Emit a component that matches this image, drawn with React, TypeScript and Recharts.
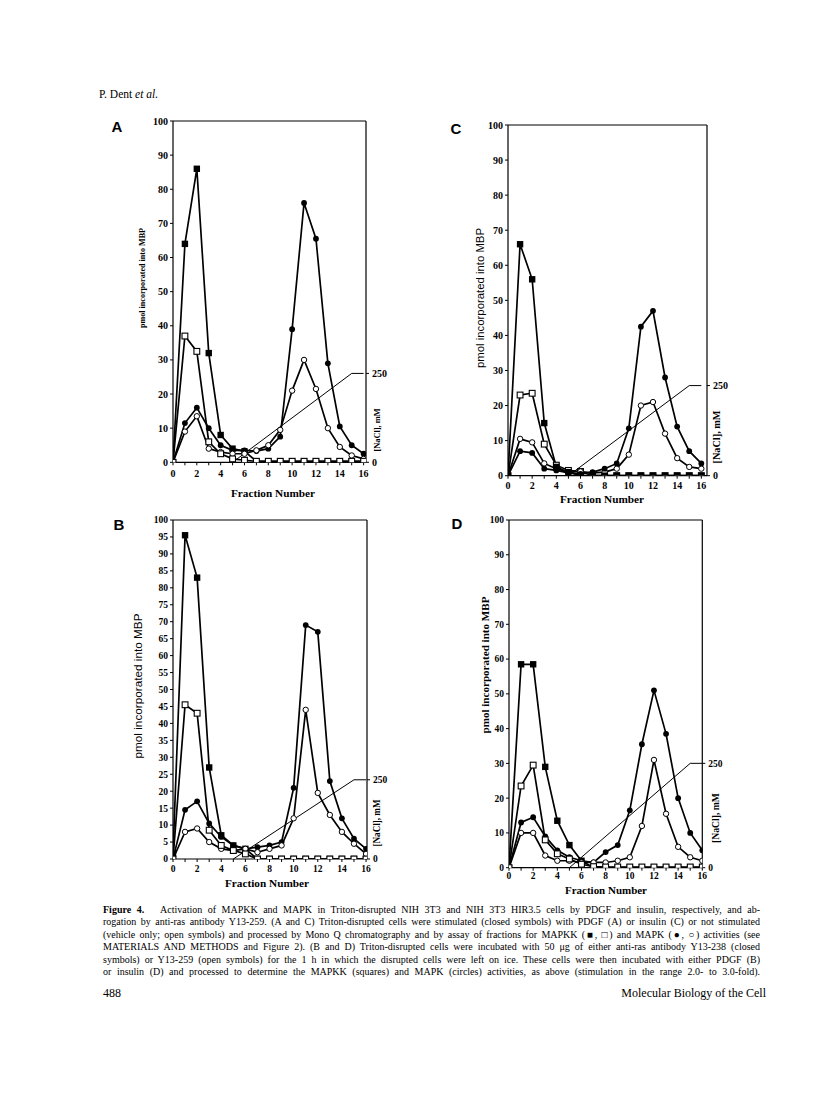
import React from 'react';
import { LineChart, Line, XAxis, YAxis, ReferenceLine } from 'recharts';

const fractions = [0, 1, 2, 3, 4, 5, 6, 7, 8, 9, 10, 11, 12, 13, 14, 15, 16];
const xTicks = [0, 1, 2, 3, 4, 5, 6, 7, 8, 9, 10, 11, 12, 13, 14, 15, 16];
const yTicks10 = [0, 10, 20, 30, 40, 50, 60, 70, 80, 90, 100];
const yTicks5 = [0, 5, 10, 15, 20, 25, 30, 35, 40, 45, 50, 55, 60, 65, 70, 75, 80, 85, 90, 95, 100];
const naclTicks = [0, 250];
// NaCl gradient, mM
const naclMM = [null, null, null, null, null, 0, null, null, null, null, null, null, null, null, null, 250, 250];

// Panel A (PDGF): MAPKK closed/open squares, MAPK closed/open circles
const aMapkkClosed = [0, 64, 86, 32, 8, 4, 3.2, 0.3, 0.3, 0.3, 0.3, 0.3, 0.3, 0.3, 0.3, 0.3, 0.3];
const aMapkkOpen = [0, 37, 32.5, 6, 2.5, 1, 0.6, 0.3, 0.3, 0.3, 0.3, 0.3, 0.3, 0.3, 0.3, 0.3, 0.3];
const aMapkClosed = [0, 11.5, 16, 10, 5, 3.5, 3.5, 3.3, 4, 7.5, 39, 76, 65.5, 29, 10.5, 5, 2.5];
const aMapkOpen = [0, 9, 13.5, 4, 3, 2.5, 2.5, 3.5, 5, 9.5, 21, 30, 21.5, 10, 4.5, 2, 1];

// Panel C (insulin)
const cMapkkClosed = [0, 66, 56, 15, 2.5, 1, 0, 0, 0, 0, 0, 0, 0, 0, 0, 0, 0];
const cMapkkOpen = [0, 23, 23.5, 9, 3, 1.5, 1.2, 0, 0, 0, 0, 0, 0, 0, 0, 0, 0];
const cMapkClosed = [0, 7, 6.5, 2, 1.5, 0.8, 0.5, 1, 2, 3.5, 13.5, 42.5, 47, 28, 14, 7, 3.5];
const cMapkOpen = [0, 10.5, 9.5, 3.5, 2, 1, 1.2, 0.8, 1, 2, 6, 20, 21, 12, 5, 2.5, 2];

// Panel B (PDGF + antibodies)
const bMapkkClosed = [1.5, 95.5, 83, 27, 7, 4, 3, 0, 0, 0, 0, 0, 0, 0, 0, 0, 0];
const bMapkkOpen = [0, 45.5, 43, 8.5, 4, 2.5, 1.5, 0, 0, 0, 0, 0, 0, 0, 0, 0, 0];
const bMapkClosed = [0, 14.5, 17, 10.5, 6.5, 4, 3, 3.5, 4, 5, 21, 69, 67, 23, 12, 6, 3];
const bMapkOpen = [0, 8, 9, 5, 3, 2.5, 3, 2, 3, 4, 12, 44, 19.5, 13, 8, 4.5, 1.5];

// Panel D (insulin + antibodies)
const dMapkkClosed = [0, 58.5, 58.5, 29, 13.5, 6.5, 2, 0, 0, 0, 0, 0, 0, 0, 0, 0, 0];
const dMapkkOpen = [0, 23.5, 29.5, 8, 4, 2.5, 1, 0.3, 0.2, 0.2, 0.2, 0.2, 0.2, 0.2, 0.2, 0.2, 0.2];
const dMapkClosed = [0, 13, 14.5, 9, 5, 3, 2, 1.5, 4.5, 6.5, 16.5, 35.5, 51, 38.5, 20, 10, 5];
const dMapkOpen = [0, 10, 10, 3.5, 2, 2, 1.5, 1.5, 1.5, 2, 3, 12, 31, 15.5, 6, 3, 2];

const captionLines = [
  ['Figure 4.', '\u00a0\u00a0 Activation of MAPKK and MAPK in Triton-disrupted NIH 3T3 and NIH 3T3 HIR3.5 cells by PDGF and insulin, respectively, and ab-'],
  ['', 'rogation by anti-ras antibody Y13-259. (A and C) Triton-disrupted cells were stimulated (closed symbols) with PDGF (A) or insulin (C) or not stimulated'],
  ['', '(vehicle only; open symbols) and processed by Mono Q chromatography and by assay of fractions for MAPKK (\u25A0, \u25A1) and MAPK (\u25CF, \u25CB) activities (see'],
  ['', 'MATERIALS AND METHODS and Figure 2). (B and D) Triton-disrupted cells were incubated with 50 \u03BCg of either anti-ras antibody Y13-238 (closed'],
  ['', 'symbols) or Y13-259 (open symbols) for the 1 h in which the disrupted cells were left on ice. These cells were then incubated with either PDGF (B)'],
  ['', 'or insulin (D) and processed to determine the MAPKK (squares) and MAPK (circles) activities, as above (stimulation in the range 2.0- to 3.0-fold).'],
];

const SERIF = '"Liberation Serif", "Times New Roman", serif';
const SANS = '"Liberation Sans", Arial, sans-serif';

const ClosedSquare = (p: any) =>
  p.cx == null || p.cy == null ? <g key={`cs${p.index}`} /> :
    <rect key={`cs${p.index}`} x={p.cx - 3.2} y={p.cy - 3.2} width={6.4} height={6.4} fill="#000" />;
const OpenSquare = (p: any) =>
  p.cx == null || p.cy == null ? <g key={`os${p.index}`} /> :
    <rect key={`os${p.index}`} x={p.cx - 2.9} y={p.cy - 2.9} width={5.8} height={5.8} fill="#fff" stroke="#000" strokeWidth={1.1} />;
const ClosedCircle = (p: any) =>
  p.cx == null || p.cy == null ? <g key={`cc${p.index}`} /> :
    <circle key={`cc${p.index}`} cx={p.cx} cy={p.cy} r={2.9} fill="#000" />;
const OpenCircle = (p: any) =>
  p.cx == null || p.cy == null ? <g key={`oc${p.index}`} /> :
    <circle key={`oc${p.index}`} cx={p.cx} cy={p.cy} r={2.7} fill="#fff" stroke="#000" strokeWidth={1} />;

type PanelDef = {
  x0: number; xf: number; yTop: number; y0: number; xMax: number; rightMax: number;
  yTicks: number[]; cs: number[]; os: number[]; cc: number[]; oc: number[];
  order: string[]; xTickMargin: number; tickFont: number;
};

const dotFor: Record<string, any> = { cs: ClosedSquare, os: OpenSquare, cc: ClosedCircle, oc: OpenCircle };

function Panel(p: PanelDef) {
  const L = 80, R = 50, T = 15, B = 45;
  const w = p.xf - p.x0 + L + R;
  const h = p.y0 - p.yTop + T + B;
  const data = fractions.map((f, i) => ({ f, cs: p.cs[i], os: p.os[i], cc: p.cc[i], oc: p.oc[i], nacl: naclMM[i] }));
  const tickStyle = { fill: '#000', fontSize: p.tickFont, fontFamily: SERIF, fontWeight: 700 };
  return (
    <div style={{ position: 'absolute', left: p.x0 - L, top: p.yTop - T }}>
      <LineChart width={w} height={h} data={data} margin={{ top: T, right: 0, bottom: 0, left: 0 }}>
        <XAxis dataKey="f" type="number" domain={[0, p.xMax]} ticks={xTicks} interval={0} allowDataOverflow
          height={B} tickSize={3} tickMargin={p.xTickMargin} stroke="#000" tickLine={{ stroke: '#000' }}
          axisLine={{ stroke: '#000', strokeWidth: 1.2 }} tick={tickStyle}
          tickFormatter={(v: number) => (v % 2 === 0 ? String(v) : '')} />
        <YAxis yAxisId="l" domain={[0, 100]} ticks={p.yTicks} interval={0} allowDataOverflow width={L}
          tickSize={3} tickMargin={2} axisLine={{ stroke: '#000', strokeWidth: 1.2 }} tickLine={{ stroke: '#000' }} tick={tickStyle} />
        <YAxis yAxisId="r" orientation="right" domain={[0, p.rightMax]} ticks={naclTicks} interval={0} allowDataOverflow width={R}
          tickSize={3} tickMargin={3} axisLine={{ stroke: '#000', strokeWidth: 1.2 }} tickLine={{ stroke: '#000' }} tick={tickStyle} />
        <ReferenceLine yAxisId="l" y={100} stroke="#000" strokeWidth={1.2} />
        <Line yAxisId="r" dataKey="nacl" connectNulls dot={false} stroke="#000" strokeWidth={1} isAnimationActive={false} />
        {p.order.map((k) => (
          <Line key={k} yAxisId="l" dataKey={k} stroke="#000" strokeWidth={1.7} dot={dotFor[k]} activeDot={false} isAnimationActive={false} />
        ))}
      </LineChart>
    </div>
  );
}

const rotText = (x: number, y: number, s: string, size: number, len: number, family: string, weight: number) => (
  <text x={x} y={y} transform={`rotate(-90 ${x} ${y})`} textAnchor="middle" dominantBaseline="central"
    fontSize={size} fontFamily={family} fontWeight={weight} textLength={len} lengthAdjust="spacingAndGlyphs" fill="#000">{s}</text>
);
const hText = (x: number, y: number, s: string, size: number, len: number, family: string, weight: number) => (
  <text x={x} y={y} textAnchor="middle" dominantBaseline="central"
    fontSize={size} fontFamily={family} fontWeight={weight} textLength={len} lengthAdjust="spacingAndGlyphs" fill="#000">{s}</text>
);

export default function App() {
  return (
    <div style={{ position: 'absolute', left: 0, top: 0, width: 816, height: 1108, background: '#fff', overflow: 'hidden' }}>
      <div style={{ position: 'absolute', left: 99, top: 88, fontFamily: SERIF, fontSize: 11.5, color: '#000', whiteSpace: 'nowrap' }}>
        P. Dent <i>et al.</i>
      </div>

      <Panel x0={172.7} xf={365.7} yTop={121} y0={462.3} xMax={16.2} rightMax={960} yTicks={yTicks10}
        cs={aMapkkClosed} os={aMapkkOpen} cc={aMapkClosed} oc={aMapkOpen} order={['cs', 'cc', 'oc', 'os']} xTickMargin={5} tickFont={10} />
      <Panel x0={507.7} xf={706.7} yTop={125} y0={475.7} xMax={16.47} rightMax={973} yTicks={yTicks10}
        cs={cMapkkClosed} os={cMapkkOpen} cc={cMapkClosed} oc={cMapkOpen} order={['os', 'oc', 'cc', 'cs']} xTickMargin={3} tickFont={10} />
      <Panel x0={172.7} xf={366.7} yTop={520} y0={859} xMax={16.08} rightMax={1070} yTicks={yTicks5}
        cs={bMapkkClosed} os={bMapkkOpen} cc={bMapkClosed} oc={bMapkOpen} order={['cs', 'cc', 'oc', 'os']} xTickMargin={3} tickFont={9.5} />
      <Panel x0={509} xf={702.3} yTop={520} y0={867.7} xMax={16} rightMax={833} yTicks={yTicks10}
        cs={dMapkkClosed} os={dMapkkOpen} cc={dMapkClosed} oc={dMapkOpen} order={['cs', 'cc', 'oc', 'os']} xTickMargin={2} tickFont={9.5} />

      <svg width={816} height={1108} style={{ position: 'absolute', left: 0, top: 0, pointerEvents: 'none' }}>
        <text x={117} y={126} textAnchor="middle" dominantBaseline="central" fontSize={15} fontFamily={SANS} fontWeight={700}>A</text>
        <text x={456} y={128} textAnchor="middle" dominantBaseline="central" fontSize={15} fontFamily={SANS} fontWeight={700}>C</text>
        <text x={119} y={524} textAnchor="middle" dominantBaseline="central" fontSize={15} fontFamily={SANS} fontWeight={700}>B</text>
        <text x={457} y={523} textAnchor="middle" dominantBaseline="central" fontSize={15} fontFamily={SANS} fontWeight={700}>D</text>

        {rotText(142, 278, 'pmol incorporated into MBP', 9, 100, SERIF, 700)}
        {rotText(480, 298, 'pmol incorporated into MBP', 10.5, 140, SANS, 400)}
        {rotText(138, 686, 'pmol incorporated into MBP', 11, 145, SANS, 400)}
        {rotText(486, 665, 'pmol incorporated into MBP', 9.5, 137, SERIF, 700)}

        {rotText(377, 430, '[NaCl], mM', 9, 43, SERIF, 700)}
        {rotText(716, 437, '[NaCl], mM', 10, 53, SERIF, 700)}
        {rotText(377, 823, '[NaCl], mM', 9.5, 47, SERIF, 700)}
        {rotText(715, 818, '[NaCl], mM', 10, 50, SERIF, 700)}

        {hText(273, 493, 'Fraction  Number', 10.5, 84, SERIF, 700)}
        {hText(602, 499, 'Fraction  Number', 10.5, 84, SERIF, 700)}
        {hText(267, 883, 'Fraction  Number', 10.5, 84, SERIF, 700)}
        {hText(606, 890, 'Fraction  Number', 10, 82, SERIF, 700)}
      </svg>

      <div style={{ position: 'absolute', left: 103, top: 903.5, width: 657, fontFamily: SERIF, fontSize: 10, lineHeight: '12.5px', color: '#000' }}>
        {captionLines.map((l, i) => (
          <div key={i} style={{ textAlign: 'justify', textAlignLast: 'justify' }}>
            {l[0] ? <b>{l[0]}</b> : null}{l[1]}
          </div>
        ))}
      </div>

      <div style={{ position: 'absolute', left: 103, top: 986, fontFamily: SERIF, fontSize: 12, color: '#000' }}>488</div>
      <div style={{ position: 'absolute', left: 103, top: 986, width: 663, textAlign: 'right', fontFamily: SERIF, fontSize: 12, color: '#000', whiteSpace: 'nowrap' }}>
        Molecular Biology of the Cell
      </div>
    </div>
  );
}
